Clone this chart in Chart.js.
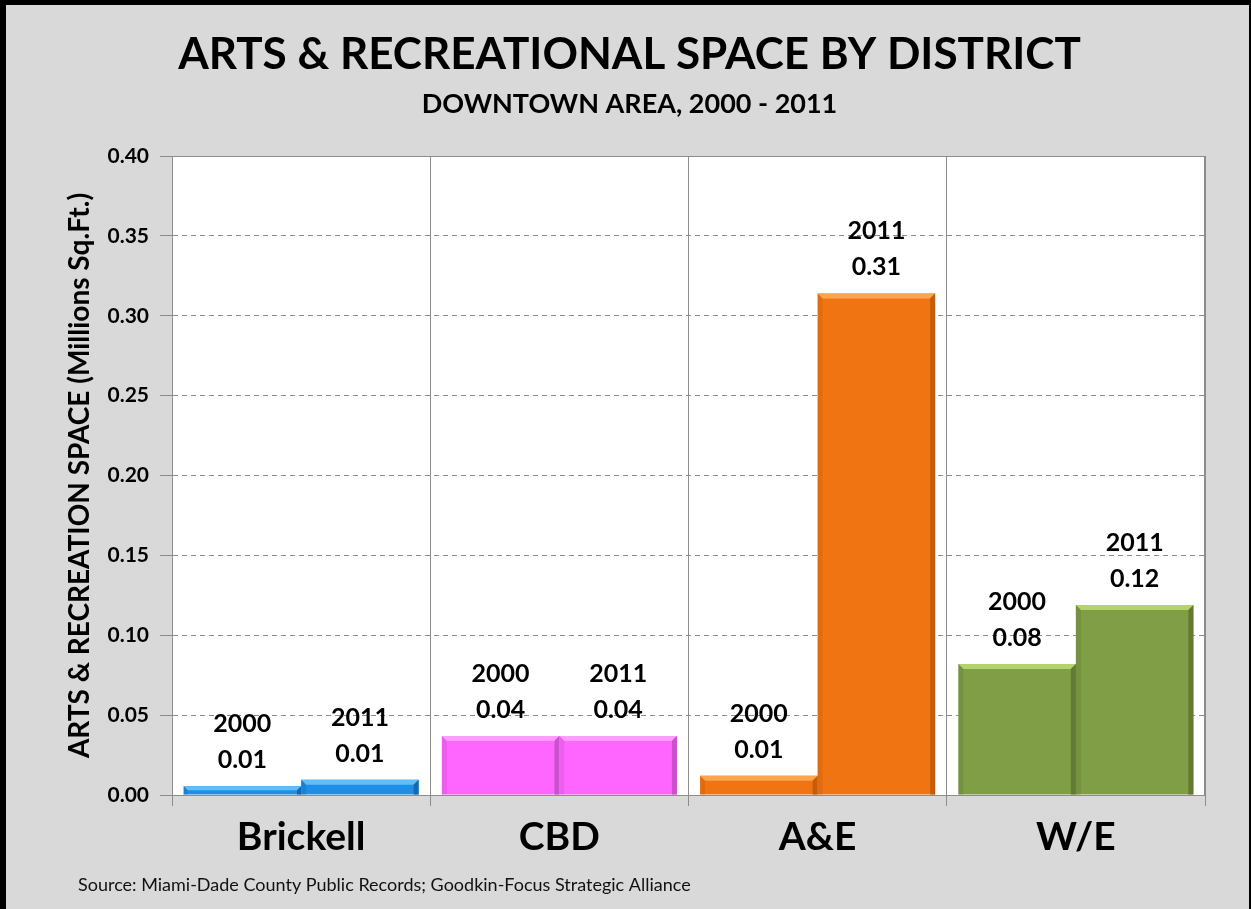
<!DOCTYPE html>
<html>
<head>
<meta charset="utf-8">
<title>Arts &amp; Recreational Space by District</title>
<script src="https://cdn.jsdelivr.net/npm/chart.js@4.4.1/dist/chart.umd.min.js"></script>
<style>
  html, body { margin: 0; padding: 0; background: #d9d9d9; }
  .frame {
    width: 1243px; height: 904px;
    border-top: 5px solid #000; border-left: 6px solid #000; border-right: 2px solid #000;
  }
  canvas { display: block; }
</style>
</head>
<body>
<div class="frame"><canvas id="districtChart" width="1243" height="904"></canvas></div>
<script>
// districts and square footage (millions sq.ft.)
const districts = ['Brickell', 'CBD', 'A&E', 'W/E'];
const years = ['2000', '2011'];
const space2000 = [0.0055, 0.037, 0.012, 0.082];
const space2011 = [0.0095, 0.037, 0.314, 0.119];

// y axis range
const yMin = 0;
const yMax = 0.40;
const yStep = 0.05;

// one colour per district: face, top highlight, right shade
const fills      = ['#1e8fe4', '#ff66ff', '#f07512', '#7f9e45'];
const highlights = ['#63bdf6', '#ff9dff', '#fba54e', '#b3d36f'];
const shades     = ['#1669ad', '#cc50cc', '#c35c0b', '#627a33'];

const FONT = 'Lato';

// white plot area + grey frame
const plotFrame = {
  id: 'plotFrame',
  beforeDraw(chart) {
    const { ctx, chartArea: a } = chart;
    ctx.save();
    ctx.fillStyle = '#fff';
    ctx.fillRect(a.left, a.top, a.right - a.left, a.bottom - a.top);
    ctx.restore();
  },
  beforeDatasetsDraw(chart) {
    const { ctx, chartArea: a } = chart;
    ctx.save();
    ctx.strokeStyle = '#8c8c8c';
    ctx.lineWidth = 1;
    ctx.strokeRect(a.left + 0.5, a.top + 0.5, a.right - a.left - 1, a.bottom - a.top);
    ctx.restore();
  }
};

// bevelled edges on each bar
const bevel = {
  id: 'bevel',
  afterDatasetsDraw(chart) {
    const ctx = chart.ctx;
    chart.data.datasets.forEach((ds, di) => {
      chart.getDatasetMeta(di).data.forEach((bar, i) => {
        const l = bar.x - bar.width / 2, r = bar.x + bar.width / 2;
        const t = bar.y, b = bar.base;
        const e = Math.min(5, (b - t) / 2);
        ctx.save();
        ctx.fillStyle = highlights[i];
        ctx.beginPath();
        ctx.moveTo(l, t); ctx.lineTo(r, t); ctx.lineTo(r - e, t + e); ctx.lineTo(l + e, t + e);
        ctx.closePath(); ctx.fill();
        ctx.fillStyle = shades[i];
        ctx.beginPath();
        ctx.moveTo(r, t); ctx.lineTo(r, b); ctx.lineTo(r - e, b); ctx.lineTo(r - e, t + e);
        ctx.closePath(); ctx.fill();
        ctx.globalAlpha = 0.35;
        ctx.beginPath();
        ctx.moveTo(l, t); ctx.lineTo(l + e, t + e); ctx.lineTo(l + e, b); ctx.lineTo(l, b);
        ctx.closePath(); ctx.fill();
        ctx.restore();
      });
    });
  }
};

// year + value above every bar
const barLabels = {
  id: 'barLabels',
  afterDatasetsDraw(chart) {
    const ctx = chart.ctx;
    ctx.save();
    ctx.font = `bold 25px ${FONT}`;
    ctx.fillStyle = '#000';
    ctx.textAlign = 'center';
    ctx.textBaseline = 'middle';
    chart.data.datasets.forEach((ds, di) => {
      chart.getDatasetMeta(di).data.forEach((bar, i) => {
        ctx.fillText(ds.label, bar.x, bar.y - 62);
        ctx.fillText(ds.data[i].toFixed(2), bar.x, bar.y - 26);
      });
    });
    ctx.restore();
  }
};

// source note in the bottom left corner
const sourceNote = {
  id: 'sourceNote',
  afterDraw(chart) {
    const ctx = chart.ctx;
    ctx.save();
    ctx.font = `18px ${FONT}`;
    ctx.fillStyle = '#111';
    ctx.textBaseline = 'middle';
    ctx.fillText('Source: Miami-Dade County Public Records; Goodkin-Focus Strategic Alliance', 72, 880);
    ctx.restore();
  }
};

function draw() {
  new Chart(document.getElementById('districtChart'), {
    type: 'bar',
    data: {
      labels: districts,
      datasets: [
        { label: years[0], data: space2000, backgroundColor: fills, borderWidth: 0 },
        { label: years[1], data: space2011, backgroundColor: fills, borderWidth: 0 }
      ]
    },
    options: {
      responsive: false,
      devicePixelRatio: 1,
      animation: false,
      categoryPercentage: 0.91,
      barPercentage: 1.0,
      layout: { padding: { left: 48, right: 44, top: 0, bottom: 0 } },
      plugins: {
        legend: { display: false },
        tooltip: { enabled: false },
        title: {
          display: true,
          text: 'ARTS & RECREATIONAL SPACE BY DISTRICT',
          color: '#000',
          font: { family: FONT, size: 44, weight: 'bold', lineHeight: 1 },
          padding: { top: 28, bottom: 10 }
        },
        subtitle: {
          display: true,
          text: 'DOWNTOWN AREA, 2000 - 2011',
          color: '#000',
          font: { family: FONT, size: 27, weight: 'bold', lineHeight: 1 },
          padding: { top: 4, bottom: 38 }
        }
      },
      scales: {
        x: {
          afterFit(scale) { scale.height = 114; },
          grid: { color: '#8c8c8c', tickLength: 11, offset: true },
          border: { color: '#8c8c8c' },
          ticks: { color: '#000', padding: 8, font: { family: FONT, size: 39, weight: 'bold' } }
        },
        y: {
          min: yMin,
          max: yMax,
          afterFit(scale) { scale.width = 118; },
          grid: { color: '#8c8c8c', tickLength: 12 },
          border: { color: '#8c8c8c', dash: [5, 4] },
          ticks: {
            stepSize: yStep,
            color: '#000',
            padding: 11,
            font: { family: FONT, size: 21, weight: 'bold' },
            callback: v => v.toFixed(2)
          },
          title: {
            display: true,
            text: 'ARTS & RECREATION SPACE (Millions Sq.Ft.)',
            color: '#000',
            font: { family: FONT, size: 28, weight: 'bold', lineHeight: 1 },
            padding: { top: 12 }
          }
        }
      }
    },
    plugins: [plotFrame, bevel, barLabels, sourceNote]
  });
}

Promise.all([
  document.fonts.load(`bold 20px ${FONT}`),
  document.fonts.load(`20px ${FONT}`)
]).then(draw, draw);
</script>
</body>
</html>
